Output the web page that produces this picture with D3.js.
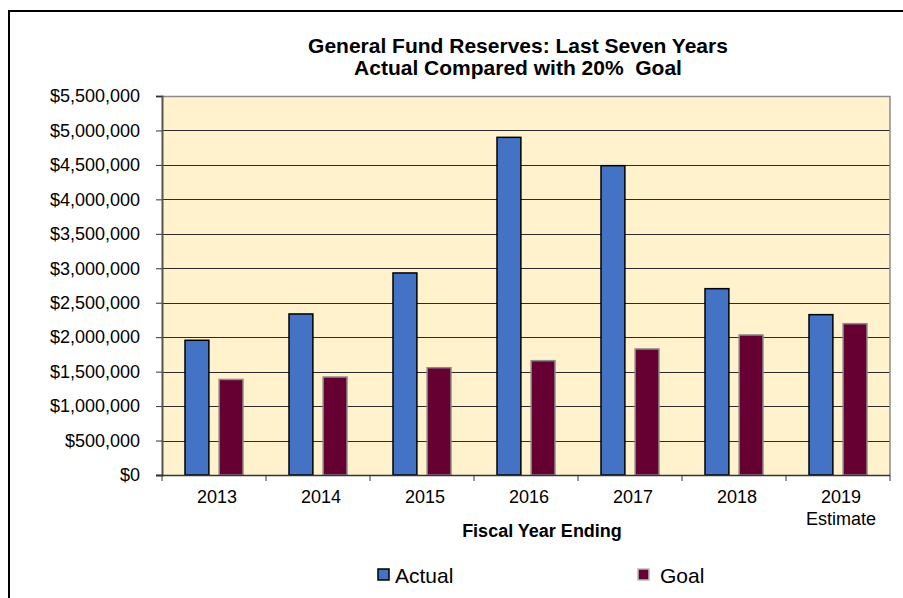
<!DOCTYPE html>
<html>
<head>
<meta charset="utf-8">
<script src="https://cdn.jsdelivr.net/npm/d3@7"></script>
<style>
  html, body { margin: 0; padding: 0; background: #fff; }
  svg { display: block; font-family: Arial, "Liberation Sans", sans-serif; }
</style>
</head>
<body>
<svg id="chart" width="903" height="598"></svg>
<script>
const categories = ["2013", "2014", "2015", "2016", "2017", "2018", "2019\nEstimate"];
const actualValues = [1955000, 2337000, 2932000, 4900000, 4489000, 2704000, 2327000];
const goalValues = [1387000, 1422000, 1557000, 1659000, 1829000, 2032000, 2196000];
const seriesNames = ["Actual", "Goal"];
const seriesColors = ["#4472C4", "#660033"];
const seriesStrokes = ["#000000", "#8c8c8c"];
const yTickValues = [0, 500000, 1000000, 1500000, 2000000, 2500000, 3000000, 3500000, 4000000, 4500000, 5000000, 5500000];
const titleLines = ["General Fund Reserves: Last Seven Years", "Actual Compared with 20%\u00a0 Goal"];
const xTitle = "Fiscal Year Ending";

const svg = d3.select("#chart");
const plot = { left: 162, right: 890, top: 96, bottom: 475 };

// outer border
svg.append("rect").attr("x", 9).attr("y", 11).attr("width", 900).attr("height", 600)
  .attr("fill", "#fff").attr("stroke", "#000").attr("stroke-width", 2);

const x = d3.scaleBand().domain(categories).range([plot.left, plot.right]).paddingInner(0).paddingOuter(0);
const xs = d3.scaleBand().domain(seriesNames).range([23, 81]).paddingInner(0.3).paddingOuter(0);
const y = d3.scaleLinear().domain([0, 5500000]).range([plot.bottom, plot.top]);

// plot background
svg.append("rect").attr("x", plot.left).attr("y", plot.top)
  .attr("width", plot.right - plot.left).attr("height", plot.bottom - plot.top)
  .attr("fill", "#FFF2CC");

// gridlines
svg.append("g").selectAll("line").data(yTickValues.filter(d => d > 0 && d < 5500000)).join("line")
  .attr("x1", plot.left).attr("x2", plot.right)
  .attr("y1", d => Math.round(y(d)) + 0.5).attr("y2", d => Math.round(y(d)) + 0.5)
  .attr("stroke", "#2a2a2a").attr("stroke-width", 1);

// top and right border of plot
svg.append("path")
  .attr("d", `M${plot.left},${plot.top + 0.5}H${plot.right}V${plot.bottom}`)
  .attr("fill", "none").attr("stroke", "#8a8a8a").attr("stroke-width", 1.5);

// bars
const data = categories.map((c, i) => ({ cat: c, values: [actualValues[i], goalValues[i]] }));
const groups = svg.append("g").selectAll("g").data(data).join("g")
  .attr("transform", d => `translate(${x(d.cat)},0)`);
groups.selectAll("rect").data(d => d.values.map((v, j) => ({ v, s: seriesNames[j], j }))).join("rect")
  .attr("x", d => xs(d.s))
  .attr("y", d => y(d.v))
  .attr("width", xs.bandwidth())
  .attr("height", d => y(0) - y(d.v))
  .attr("fill", d => seriesColors[d.j])
  .attr("stroke", d => seriesStrokes[d.j])
  .attr("stroke-width", 1.5);

// y axis
const yAxis = d3.axisLeft(y).tickValues(yTickValues).tickSize(6).tickPadding(16)
  .tickFormat(d => "$" + d3.format(",")(d));
const yg = svg.append("g").attr("transform", `translate(${plot.left},0)`).call(yAxis);
yg.select(".domain").attr("stroke", "#555").attr("stroke-width", 2);
yg.selectAll(".tick line").attr("stroke", "#333");
yg.selectAll("text").attr("font-size", 18).attr("fill", "#000")
  .attr("font-family", "Arial, 'Liberation Sans', sans-serif");

// x axis: line and ticks at category boundaries
const xg = svg.append("g");
xg.append("line").attr("x1", plot.left - 6).attr("x2", plot.right)
  .attr("y1", plot.bottom + 0.5).attr("y2", plot.bottom + 0.5)
  .attr("stroke", "#333").attr("stroke-width", 1.5);
const boundaries = categories.map(c => x(c)).concat([plot.right]);
xg.selectAll("line.tk").data(boundaries).join("line").attr("class", "tk")
  .attr("x1", d => d).attr("x2", d => d)
  .attr("y1", plot.bottom).attr("y2", plot.bottom + 6)
  .attr("stroke", "#333").attr("stroke-width", 1);
const xl = xg.selectAll("text").data(categories).join("text")
  .attr("x", d => x(d) + x.bandwidth() / 2 + 3)
  .attr("y", 503)
  .attr("text-anchor", "middle")
  .attr("font-size", 18).attr("fill", "#000");
xl.each(function(d) {
  const lines = d.split("\n");
  d3.select(this).selectAll("tspan").data(lines).join("tspan")
    .attr("x", x(d) + x.bandwidth() / 2 + 3)
    .attr("dy", (l, i) => i === 0 ? 0 : 22)
    .text(l => l);
});

// x title
svg.append("text").attr("x", 542).attr("y", 537).attr("text-anchor", "middle")
  .attr("font-size", 18).attr("font-weight", "bold").attr("fill", "#000").text(xTitle);

// title
svg.append("text").attr("x", 518).attr("text-anchor", "middle")
  .attr("font-size", 21).attr("font-weight", "bold").attr("fill", "#000")
  .selectAll("tspan").data(titleLines).join("tspan")
  .attr("x", 518).attr("y", (d, i) => 53 + i * 22).text(d => d);

// legend
const legendPos = [{ sx: 378, tx: 395 }, { sx: 638, tx: 660 }];
const lg = svg.append("g").selectAll("g").data(seriesNames).join("g");
lg.append("rect")
  .attr("x", (d, i) => legendPos[i].sx).attr("y", 569)
  .attr("width", 11).attr("height", 11)
  .attr("fill", (d, i) => seriesColors[i])
  .attr("stroke", (d, i) => i === 0 ? "#000" : "#bbb").attr("stroke-width", 1.5);
lg.append("text")
  .attr("x", (d, i) => legendPos[i].tx).attr("y", 583)
  .attr("font-size", 21).attr("fill", "#000").text(d => d);
</script>
</body>
</html>
